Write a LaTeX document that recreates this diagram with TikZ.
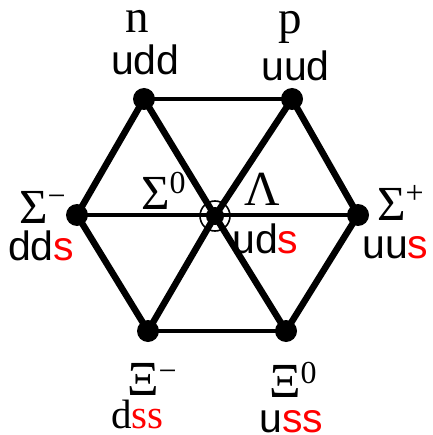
\documentclass[tikz,border=0pt]{standalone}
\usepackage{fontspec}
\setmainfont{Liberation Serif}
\newfontfamily\sansf{Liberation Sans}
\definecolor{sred}{RGB}{255,0,0}
\newcommand\upsc[2]{\raisebox{#1}{\fontsize{32}{32}\selectfont #2}}
\newcommand\sq{\textcolor{sred}{s}}
\begin{document}
\begin{tikzpicture}[x=1pt,y=-1pt,
  thickedge/.style={line width=6.5pt},
  thinedge/.style={line width=4pt},
  dotnode/.style={circle,fill=black,inner sep=0pt,minimum size=22pt},
  lbl/.style={inner sep=0pt,anchor=base west},
  latin/.style={lbl,font=\fontsize{47}{47}\selectfont},
  greek/.style={lbl,font=\fontsize{49}{49}\selectfont},
  quark/.style={lbl,font=\sansf\fontsize{41}{41}\selectfont},
  squark/.style={lbl,font=\fontsize{41}{41}\selectfont}]
\useasboundingbox (0,0) rectangle (432,435);
\fill[white] (0,0) rectangle (432,435);
% vertices
\coordinate (n) at (144,99);
\coordinate (p) at (292,99);
\coordinate (sp) at (358,215);
\coordinate (x0) at (286,331);
\coordinate (xm) at (148,331);
\coordinate (sm) at (77,215);
\coordinate (c) at (215,216);
% edges
\draw[thinedge] (n) -- (p);
\draw[thinedge] (xm) -- (x0);
\draw[thinedge] (sm) -- (sp);
\draw[thickedge] (n) -- (sm) -- (xm);
\draw[thickedge] (p) -- (sp) -- (x0);
\draw[thickedge] (n) -- (c) -- (x0);
\draw[thickedge] (p) -- (c) -- (xm);
% dots
\node[dotnode] (dn) at (n) {};
\node[dotnode] (dp) at (p) {};
\node[dotnode] (dsp) at (sp) {};
\node[dotnode] (dx0) at (x0) {};
\node[dotnode] (dxm) at (xm) {};
\node[dotnode] (dsm) at (sm) {};
\node[circle,fill=black,inner sep=0pt,minimum size=18pt] (dc) at (c) {};
\node[circle,draw=black,line width=1.6pt,inner sep=0pt,minimum size=30pt] (ring) at (c) {};
% labels
\node[latin] (ln) at (125,33) {n};
\node[quark] (qn) at (111,75) {udd};
\node[latin] (lp) at (278,34) {p};
\node[quark] (qp) at (261,81) {uud};
\node[greek] (lsm) at (19,223) {Σ\upsc{17pt}{−}};
\node[quark] (qsm) at (8,260) {dd\sq};
\node[greek] (ls0) at (141,210) {Σ\upsc{17pt}{0}};
\node[greek] (lla) at (244,205) {Λ};
\node[quark] (qla) at (232,253) {ud\sq};
\node[greek] (lsp) at (377,220) {Σ\upsc{17pt}{+}};
\node[quark] (qsp) at (362,258) {uu\sq};
\node[greek] (lxm) at (127,395) {Ξ\upsc{14pt}{−}};
\node[squark] (qxm) at (111,428) {d\textcolor{sred}{ss}};
\node[greek] (lx0) at (269,397) {Ξ\upsc{14pt}{0}};
\node[quark] (qx0) at (259,432) {u\textcolor{sred}{ss}};
\end{tikzpicture}
\end{document}
